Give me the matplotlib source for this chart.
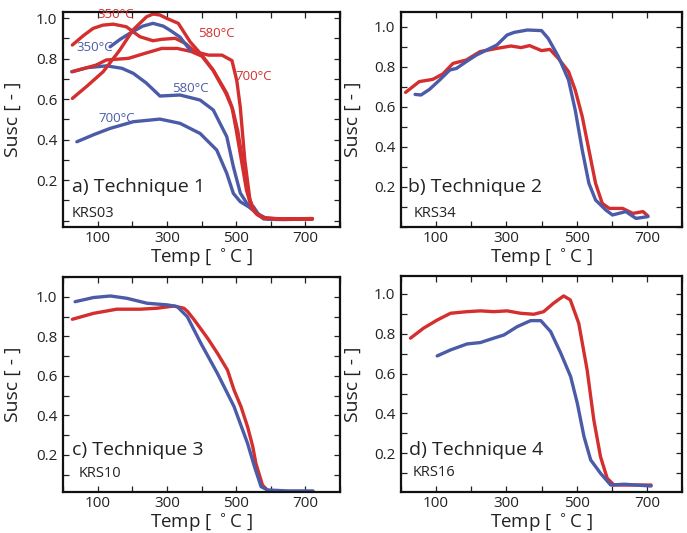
import matplotlib
matplotlib.use("Agg")
import matplotlib.pyplot as plt
from matplotlib.ticker import MultipleLocator, FixedLocator

plt.rcParams['font.family'] = ['Open Sans', 'DejaVu Sans']

RED = '#d42e2e'
BLUE = '#4b5ba8'

# ---------------- Panel a: Technique 1 (KRS03) ----------------
a_red350_T = [27, 60, 87, 115, 145, 183, 222, 260, 285, 324, 353, 382, 420, 459, 488, 502, 512, 525, 540, 555, 575, 620, 720]
a_red350_v = [0.867, 0.915, 0.949, 0.965, 0.970, 0.957, 0.908, 0.888, 0.895, 0.900, 0.875, 0.834, 0.817, 0.817, 0.790, 0.69, 0.56, 0.30, 0.10, 0.04, 0.015, 0.008, 0.008]

a_red580_T = [27, 70, 116, 164, 202, 241, 260, 280, 299, 333, 367, 401, 434, 473, 488, 500, 515, 530, 545, 560, 580, 640, 720]
a_red580_v = [0.603, 0.665, 0.735, 0.842, 0.941, 1.006, 1.020, 1.015, 0.999, 0.974, 0.883, 0.817, 0.743, 0.628, 0.56, 0.45, 0.30, 0.15, 0.06, 0.03, 0.012, 0.008, 0.008]

a_red700_T = [27, 96, 125, 189, 237, 285, 330, 370, 401, 434, 470, 490, 505, 520, 535, 550, 565, 585, 640, 720]
a_red700_v = [0.735, 0.768, 0.793, 0.801, 0.826, 0.850, 0.850, 0.835, 0.812, 0.74, 0.63, 0.55, 0.44, 0.28, 0.13, 0.05, 0.025, 0.01, 0.008, 0.01]

a_blue350_T = [136, 165, 194, 230, 260, 290, 309, 338, 367]
a_blue350_v = [0.858, 0.895, 0.926, 0.960, 0.974, 0.960, 0.940, 0.906, 0.842]

a_blue580_T = [25, 70, 126, 170, 203, 240, 280, 338, 396, 434, 473, 492, 512, 531, 550, 565, 579, 620, 720]
a_blue580_v = [0.735, 0.755, 0.764, 0.752, 0.727, 0.680, 0.615, 0.620, 0.595, 0.546, 0.414, 0.266, 0.136, 0.085, 0.068, 0.03, 0.008, 0.005, 0.008]

a_blue700_T = [40, 90, 136, 203, 280, 338, 396, 444, 473, 492, 512, 536, 560, 590, 640, 720]
a_blue700_v = [0.389, 0.425, 0.455, 0.488, 0.501, 0.480, 0.430, 0.348, 0.233, 0.134, 0.093, 0.068, 0.036, 0.008, 0.005, 0.008]

# ---------------- Panel b: Technique 2 (KRS34) ----------------
b_red_T = [13, 52, 90, 119, 148, 186, 225, 273, 313, 342, 366, 400, 424, 448, 477, 496, 516, 535, 554, 573, 593, 631, 660, 689, 703]
b_red_v = [0.673, 0.727, 0.738, 0.765, 0.818, 0.835, 0.877, 0.893, 0.905, 0.897, 0.907, 0.882, 0.888, 0.843, 0.777, 0.685, 0.552, 0.385, 0.218, 0.118, 0.093, 0.093, 0.068, 0.077, 0.055]

b_blue_T = [40, 57, 81, 110, 139, 158, 186, 215, 244, 273, 302, 322, 360, 400, 419, 448, 477, 496, 516, 535, 554, 583, 602, 640, 669, 703]
b_blue_v = [0.663, 0.660, 0.688, 0.735, 0.785, 0.793, 0.827, 0.860, 0.885, 0.910, 0.960, 0.973, 0.985, 0.982, 0.943, 0.852, 0.735, 0.585, 0.385, 0.218, 0.135, 0.085, 0.060, 0.077, 0.043, 0.052]

# ---------------- Panel c: Technique 3 (KRS10) ----------------
c_red_T = [27, 88, 155, 223, 272, 320, 349, 360, 379, 418, 446, 475, 494, 514, 533, 548, 557, 576, 591, 650, 722]
c_red_v = [0.887, 0.917, 0.938, 0.938, 0.943, 0.954, 0.943, 0.926, 0.884, 0.790, 0.715, 0.630, 0.529, 0.445, 0.343, 0.243, 0.158, 0.048, 0.02, 0.015, 0.015]

c_blue_T = [35, 88, 137, 185, 243, 301, 330, 359, 398, 446, 494, 533, 553, 572, 591, 650, 722]
c_blue_v = [0.976, 0.997, 1.005, 0.993, 0.968, 0.960, 0.951, 0.900, 0.766, 0.613, 0.445, 0.259, 0.141, 0.040, 0.023, 0.018, 0.018]

# ---------------- Panel d: Technique 4 (KRS16) ----------------
d_red_T = [27, 64, 103, 141, 188, 226, 264, 302, 340, 378, 406, 434, 463, 482, 506, 530, 549, 568, 587, 606, 654, 712]
d_red_v = [0.778, 0.828, 0.869, 0.903, 0.911, 0.915, 0.911, 0.915, 0.903, 0.898, 0.911, 0.953, 0.990, 0.970, 0.853, 0.618, 0.367, 0.183, 0.075, 0.041, 0.041, 0.041]

d_blue_T = [103, 141, 188, 226, 264, 293, 331, 369, 398, 426, 455, 483, 502, 521, 540, 568, 597, 635, 712]
d_blue_v = [0.689, 0.719, 0.749, 0.756, 0.778, 0.794, 0.836, 0.866, 0.866, 0.811, 0.702, 0.585, 0.451, 0.284, 0.167, 0.100, 0.041, 0.045, 0.036]

x_ticklabels = [100, 300, 500, 700]
y_ticklabels = [0.2, 0.4, 0.6, 0.8, 1.0]

W, H = 687, 533
fig = plt.figure(figsize=(W / 100, H / 100), dpi=100)


def make_ax(l, t, r, b, ylim):
    ax = fig.add_axes([l / W, 1 - b / H, (r - l) / W, (b - t) / H])
    ax.set_xlim(0, 800)
    ax.set_ylim(*ylim)
    ax.xaxis.set_major_locator(FixedLocator(x_ticklabels))
    ax.xaxis.set_minor_locator(MultipleLocator(100))
    ax.yaxis.set_major_locator(FixedLocator(y_ticklabels))
    ax.yaxis.set_minor_locator(MultipleLocator(0.1))
    ax.set_xticklabels([str(v) for v in x_ticklabels])
    ax.set_yticklabels([f"{v:.1f}" for v in y_ticklabels])
    ax.tick_params(which='both', direction='in', top=True, right=True,
                   length=4, width=0.9, labelsize=11, colors='#222222')
    ax.tick_params(axis='x', pad=3)
    ax.tick_params(axis='y', pad=4)
    for s in ax.spines.values():
        s.set_linewidth(1.6)
        s.set_color('#111111')
    ax.set_xlabel('Temp [ $^\\circ$C ]', fontsize=13.5, color='#222222')
    ax.set_ylabel('Susc [ - ]', fontsize=14, color='#222222')
    return ax


lw = 2.4
kw = dict(lw=lw, solid_joinstyle='round', solid_capstyle='round')
axa = make_ax(63, 12, 340, 227, (-0.032, 1.03))
axb = make_ax(401, 12, 682, 227, (0.0, 1.075))
axc = make_ax(63, 277, 340, 492, (0.0127, 1.101))
axd = make_ax(401, 276, 682, 492, (0.006, 1.09))

# panel a
axa.plot(a_blue700_T, a_blue700_v, color=BLUE, **kw)
axa.plot(a_blue580_T, a_blue580_v, color=BLUE, **kw)
axa.plot(a_red700_T, a_red700_v, color=RED, **kw)
axa.plot(a_red350_T, a_red350_v, color=RED, **kw)
axa.plot(a_blue350_T, a_blue350_v, color=BLUE, **kw)
axa.plot(a_red580_T, a_red580_v, color=RED, **kw)

lab_fs = 9.5
axa.text(152, 1.016, '350°C', color=RED, fontsize=lab_fs, ha='center', va='center')
axa.text(92, 0.857, '350°C', color=BLUE, fontsize=lab_fs, ha='center', va='center')
axa.text(442, 0.926, '580°C', color=RED, fontsize=lab_fs, ha='center', va='center')
axa.text(550, 0.709, '700°C', color=RED, fontsize=lab_fs, ha='center', va='center')
axa.text(368, 0.654, '580°C', color=BLUE, fontsize=lab_fs, ha='center', va='center')
axa.text(156, 0.506, '700°C', color=BLUE, fontsize=lab_fs, ha='center', va='center')

# panel b
axb.plot(b_red_T, b_red_v, color=RED, **kw)
axb.plot(b_blue_T, b_blue_v, color=BLUE, **kw)

# panel c
axc.plot(c_red_T, c_red_v, color=RED, **kw)
axc.plot(c_blue_T, c_blue_v, color=BLUE, **kw)

# panel d
axd.plot(d_red_T, d_red_v, color=RED, **kw)
axd.plot(d_blue_T, d_blue_v, color=BLUE, **kw)

titles = [(axa, 'a) Technique 1', 0.032, 0.186, 'KRS03', 0.032, 0.065),
          (axb, 'b) Technique 2', 0.025, 0.186, 'KRS34', 0.046, 0.065),
          (axc, 'c) Technique 3', 0.032, 0.195, 'KRS10', 0.058, 0.084),
          (axd, 'd) Technique 4', 0.028, 0.195, 'KRS16', 0.043, 0.088)]
for ax, t, tx, ty, k, kx, ky in titles:
    ax.text(tx, ty, t, transform=ax.transAxes, fontsize=14, ha='left', va='center', color='#222222')
    ax.text(kx, ky, k, transform=ax.transAxes, fontsize=10.5, ha='left', va='center', color='#222222')

for ax, yx in [(axa, -0.148), (axc, -0.148), (axb, -0.139), (axd, -0.139)]:
    ax.yaxis.set_label_coords(yx, 0.5)
    ax.xaxis.set_label_coords(0.5, -0.09)

fig.savefig('out.png', dpi=100, facecolor='white')
